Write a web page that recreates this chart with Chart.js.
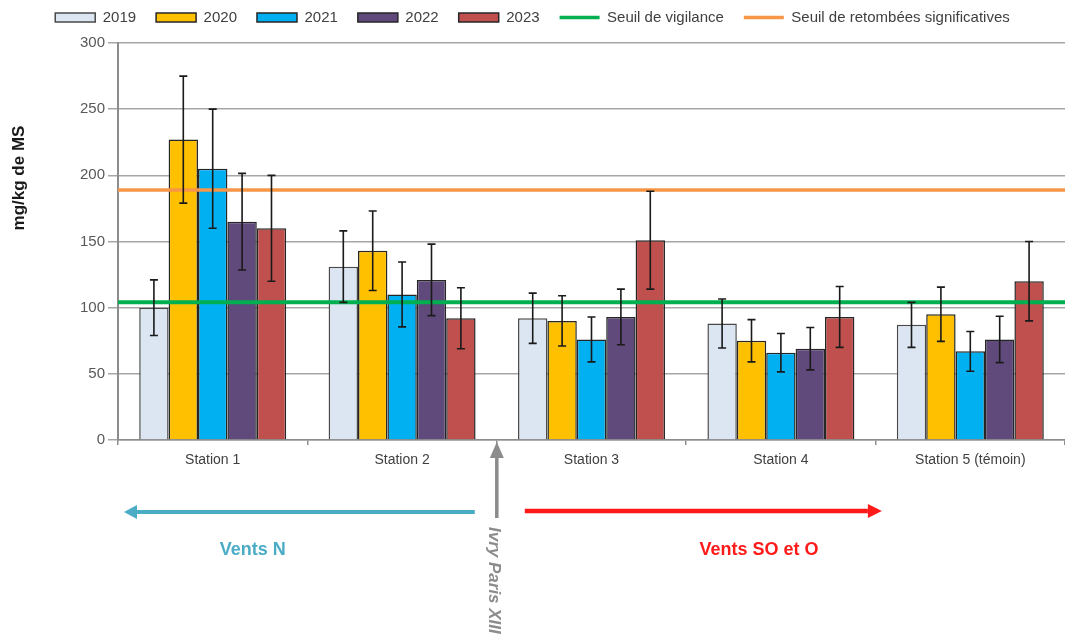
<!DOCTYPE html>
<html>
<head>
<meta charset="utf-8">
<title>Retombées par station</title>
<script src="https://cdn.jsdelivr.net/npm/chart.js@4.4.1/dist/chart.umd.min.js"></script>
<style>
  html, body { margin: 0; padding: 0; background: #fff; }
  #wrap { width: 1065px; height: 641px; position: relative; }
</style>
</head>
<body>
<div id="wrap"><canvas id="chart"></canvas></div>
<script>
(function () {
  'use strict';

  // Stations
  var STATIONS = ['Station 1', 'Station 2', 'Station 3', 'Station 4', 'Station 5 (témoin)'];

  // Mean values (mg/kg de MS) per year
  var V2019 = [100, 131, 92, 88, 87];
  var V2020 = [227, 143, 90, 75, 95];
  var V2021 = [205, 110, 76, 66, 67];
  var V2022 = [165, 121, 93, 69, 76];
  var V2023 = [160, 92, 151, 93, 120];

  // Error bar half-widths per year
  var E2019 = [21, 27, 19, 18.5, 17];
  var E2020 = [48, 30, 19, 16, 20.5];
  var E2021 = [45, 24.5, 17, 14.5, 15];
  var E2022 = [36.5, 27, 21, 16, 17.5];
  var E2023 = [40, 23, 37, 23, 30];

  // Thresholds
  var SEUILS = [
    { label: 'Seuil de vigilance', value: 104, color: '#00b050', width: 4 },
    { label: 'Seuil de retombées significatives', value: 189, color: '#f79646', width: 3.5 }
  ];

  var Y_TICKS = [0, 50, 100, 150, 200, 250, 300];

  var FONT = '"Liberation Sans", Arial, sans-serif';

  var years = [
    { label: '2019', data: V2019, err: E2019, color: '#dce6f2', border: '#4a4a4a' },
    { label: '2020', data: V2020, err: E2020, color: '#ffc000', border: '#262626' },
    { label: '2021', data: V2021, err: E2021, color: '#00b0f0', border: '#262626' },
    { label: '2022', data: V2022, err: E2022, color: '#604a7b', border: '#262626' },
    { label: '2023', data: V2023, err: E2023, color: '#c0504d', border: '#262626' }
  ];

  var datasets = years.map(function (y) {
    return {
      label: y.label,
      data: y.data,
      errors: y.err,
      backgroundColor: y.color,
      borderColor: y.border,
      borderWidth: 1.5,
      categoryPercentage: 0.776,
      barPercentage: 1.0
    };
  });

  // Threshold lines (across the plot) then error bars, both through the y scale
  var overlays = {
    id: 'overlays',
    beforeInit: function (chart) {
      var lg = chart.legend;
      if (!lg) return;
      var orig = lg.fit;
      lg.fit = function () { orig.call(lg); lg.height += 8; };
    },
    afterDatasetsDraw: function (chart) {
      var ctx = chart.ctx, yS = chart.scales.y, area = chart.chartArea;
      ctx.save();
      SEUILS.forEach(function (s) {
        var py = yS.getPixelForValue(s.value);
        ctx.strokeStyle = s.color;
        ctx.lineWidth = s.width;
        ctx.beginPath(); ctx.moveTo(area.left, py); ctx.lineTo(area.right, py); ctx.stroke();
      });
      ctx.strokeStyle = '#1a1a1a';
      ctx.lineWidth = 1.6;
      chart.data.datasets.forEach(function (ds, i) {
        var meta = chart.getDatasetMeta(i);
        meta.data.forEach(function (bar, j) {
          var top = yS.getPixelForValue(ds.data[j] + ds.errors[j]);
          var bot = yS.getPixelForValue(ds.data[j] - ds.errors[j]);
          ctx.beginPath();
          ctx.moveTo(bar.x, top); ctx.lineTo(bar.x, bot);
          ctx.moveTo(bar.x - 4, top); ctx.lineTo(bar.x + 4, top);
          ctx.moveTo(bar.x - 4, bot); ctx.lineTo(bar.x + 4, bot);
          ctx.stroke();
        });
      });
      ctx.restore();
    }
  };

  function arrow(ctx, x1, y1, x2, y2, color, width, headLen, headHalf) {
    var ang = Math.atan2(y2 - y1, x2 - x1);
    var bx = x2 - Math.cos(ang) * headLen, by = y2 - Math.sin(ang) * headLen;
    ctx.save();
    ctx.strokeStyle = color; ctx.fillStyle = color; ctx.lineWidth = width;
    ctx.beginPath(); ctx.moveTo(x1, y1); ctx.lineTo(bx, by); ctx.stroke();
    ctx.beginPath();
    ctx.moveTo(x2, y2);
    ctx.lineTo(bx - Math.sin(ang) * headHalf, by + Math.cos(ang) * headHalf);
    ctx.lineTo(bx + Math.sin(ang) * headHalf, by - Math.cos(ang) * headHalf);
    ctx.closePath(); ctx.fill();
    ctx.restore();
  }

  // Axis title + wind annotations under the chart
  var annotations = {
    id: 'annotations',
    afterDraw: function (chart) {
      var ctx = chart.ctx, x = chart.scales.x, area = chart.chartArea;
      var split = (x.getPixelForValue(1) + x.getPixelForValue(2)) / 2;
      var ay = area.bottom + 72;

      ctx.save();
      ctx.translate(19, 178);
      ctx.rotate(-Math.PI / 2);
      ctx.font = 'bold 17px ' + FONT;
      ctx.fillStyle = '#1a1a1a';
      ctx.textAlign = 'center';
      ctx.textBaseline = 'middle';
      ctx.fillText('mg/kg de MS', 0, 0);
      ctx.restore();

      arrow(ctx, split - 22, ay, area.left + 6, ay, '#4bacc6', 4, 13, 7);
      arrow(ctx, split + 28, ay - 1, x.getPixelForValue(3) + 101, ay - 1, '#ff1a1a', 4.5, 14, 7);
      arrow(ctx, split, area.bottom + 78, split, area.bottom + 2, '#8c8c8c', 3.5, 16, 7);

      ctx.save();
      ctx.textAlign = 'center';
      ctx.textBaseline = 'middle';
      ctx.font = 'bold 18px ' + FONT;
      ctx.fillStyle = '#4bacc6';
      ctx.fillText('Vents N', x.getPixelForValue(0) + 40, area.bottom + 110);
      ctx.fillStyle = '#ff1a1a';
      ctx.fillText('Vents SO et O', x.getPixelForValue(3) - 22, area.bottom + 110);
      ctx.restore();

      ctx.save();
      ctx.translate(split - 3, area.bottom + 87);
      ctx.rotate(Math.PI / 2);
      ctx.font = 'italic bold 17px ' + FONT;
      ctx.fillStyle = '#8c8c8c';
      ctx.textAlign = 'left';
      ctx.textBaseline = 'middle';
      ctx.fillText('Ivry Paris XIII', 0, 0);
      ctx.restore();
    }
  };

  new Chart(document.getElementById('chart').getContext('2d'), {
    type: 'bar',
    data: { labels: STATIONS, datasets: datasets },
    plugins: [overlays, annotations],
    options: {
      responsive: true,
      maintainAspectRatio: false,
      animation: false,
      layout: { padding: { top: -10, left: 0, right: 0, bottom: 0 } },
      plugins: {
        tooltip: { enabled: false },
        legend: {
          position: 'top',
          labels: {
            usePointStyle: true,
            pointStyleWidth: 40,
            boxHeight: 9,
            padding: 20,
            color: '#404040',
            font: { family: FONT, size: 15 },
            generateLabels: function (chart) {
              var items = Chart.defaults.plugins.legend.labels.generateLabels(chart);
              items.sort(function (a, b) { return a.datasetIndex - b.datasetIndex; });
              items.forEach(function (it) { it.pointStyle = 'rect'; });
              SEUILS.forEach(function (s) {
                items.push({
                  text: s.label,
                  fillStyle: s.color,
                  strokeStyle: s.color,
                  lineWidth: 3.5,
                  pointStyle: 'line',
                  hidden: false,
                  fontColor: '#404040'
                });
              });
              return items;
            }
          }
        }
      },
      scales: {
        x: {
          afterFit: function (s) { s.height = 201; },
          grid: { display: true, drawOnChartArea: false, drawTicks: true, tickLength: 5, color: '#8c8c8c', lineWidth: 1.5, offset: true },
          border: { display: true, color: '#8c8c8c', width: 1.5 },
          ticks: { color: '#404040', padding: 7, font: { family: FONT, size: 14 }, maxRotation: 0 }
        },
        y: {
          min: 0,
          max: 300,
          afterFit: function (s) { s.width = 118; },
          afterBuildTicks: function (s) { s.ticks = Y_TICKS.map(function (v) { return { value: v }; }); },
          grid: { color: '#a6a6a6', lineWidth: 1.5, drawTicks: true, tickLength: 10 },
          border: { display: true, color: '#8c8c8c', width: 2 },
          ticks: { color: '#595959', padding: 3, font: { family: FONT, size: 15 } }
        }
      }
    }
  });
})();
</script>
</body>
</html>
